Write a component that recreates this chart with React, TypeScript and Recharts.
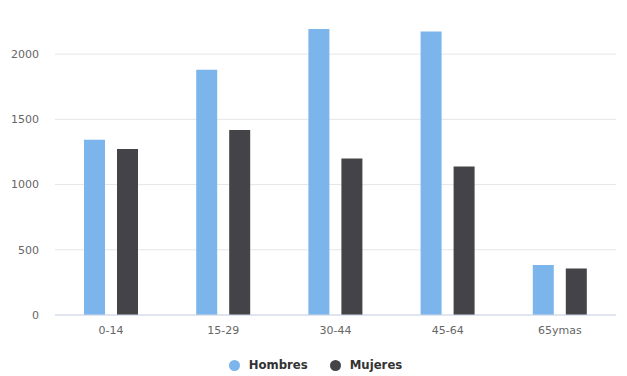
import { BarChart, Bar, XAxis, YAxis, CartesianGrid, Legend } from 'recharts'

const categories = ['0-14', '15-29', '30-44', '45-64', '65ymas']
const hombres = [1343, 1880, 2192, 2173, 383]
const mujeres = [1272, 1418, 1200, 1139, 357]
const yTicks = [0, 500, 1000, 1500, 2000]

const series = [
  { key: 'Hombres', color: '#7cb5ec' },
  { key: 'Mujeres', color: '#434348' },
]

const data = categories.map((c, i) => ({ name: c, Hombres: hombres[i], Mujeres: mujeres[i] }))

const font = '"DejaVu Sans", "Lucida Grande", sans-serif'

function LegendContent() {
  return (
    <div style={{ height: 35, display: 'flex', justifyContent: 'center', alignItems: 'flex-start', paddingTop: 17, paddingLeft: 4, boxSizing: 'border-box', fontFamily: font }}>
      {series.map((s, i) => (
        <div key={s.key} style={{ display: 'flex', alignItems: 'center', marginLeft: i ? 22 : 0 }}>
          <span style={{ width: 11, height: 11, borderRadius: '50%', background: s.color, display: 'inline-block', marginRight: 9 }} />
          <span style={{ fontSize: 11.7, fontWeight: 'bold', color: '#333', lineHeight: '14px' }}>{s.key}</span>
        </div>
      ))}
    </div>
  )
}

export default function App() {
  return (
    <div style={{ position: 'absolute', top: 0, left: 0, background: '#fff' }}>
      <BarChart
        width={627}
        height={376}
        data={data}
        margin={{ top: 15, right: 11, left: 0, bottom: 0 }}
        barSize={21}
        barGap={12}
      >
        <CartesianGrid vertical={false} stroke="#e6e6e6" horizontalValues={yTicks} />
        <XAxis
          dataKey="name"
          height={26}
          tickLine={false}
          tickSize={0}
          tickMargin={11}
          axisLine={{ stroke: '#ccd6eb' }}
          tick={{ fill: '#666', fontSize: 11, fontFamily: font }}
        />
        <YAxis
          width={55}
          domain={[0, 2300]}
          ticks={yTicks}
          axisLine={false}
          tickLine={false}
          tickSize={0}
          tickMargin={16}
          tick={{ fill: '#666', fontSize: 11, fontFamily: font }}
        />
        <Legend verticalAlign="bottom" wrapperStyle={{ left: 0, width: 627 }} content={<LegendContent />} />
        {series.map(s => (
          <Bar key={s.key} dataKey={s.key} fill={s.color} isAnimationActive={false} />
        ))}
      </BarChart>
    </div>
  )
}
